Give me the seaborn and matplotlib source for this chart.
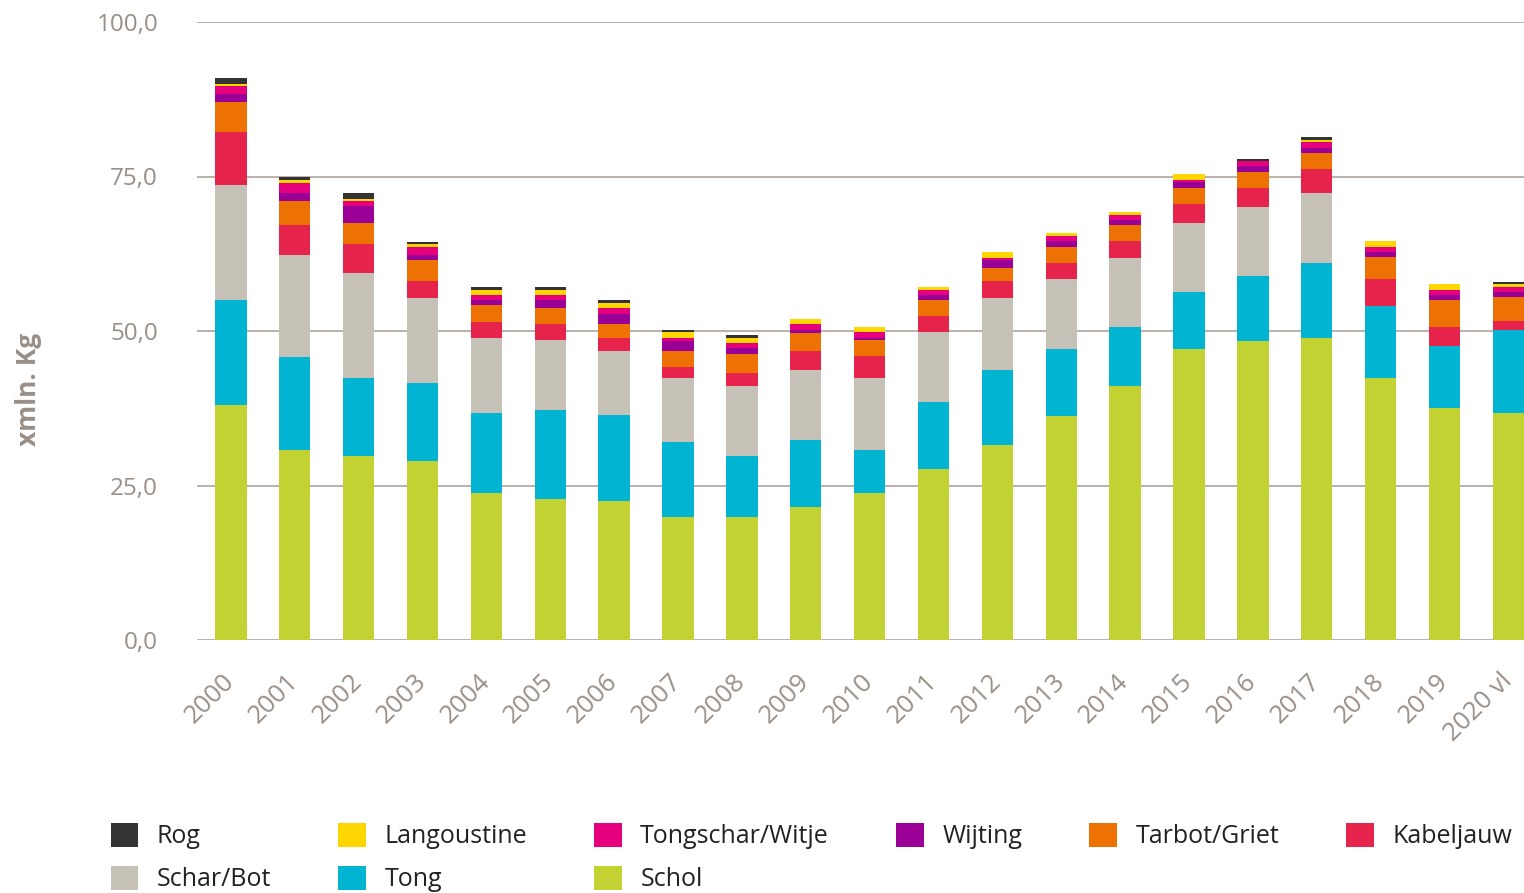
import seaborn as sns
import matplotlib.pyplot as plt
import pandas as pd
import numpy as np
from matplotlib.patches import Patch

# Data (mln kg per species)
years = ["2000", "2001", "2002", "2003", "2004", "2005", "2006", "2007", "2008", "2009", "2010",
         "2011", "2012", "2013", "2014", "2015", "2016", "2017", "2018", "2019", "2020 vl"]

schol       = [38.0, 30.7, 29.8, 29.0, 23.8, 22.8, 22.5, 19.9, 19.9, 21.5, 23.8,
               27.7, 31.6, 36.2, 41.1, 47.1, 48.4, 48.9, 42.4, 37.5, 36.7]
tong        = [17.0, 15.1, 12.6, 12.6, 12.9, 14.4, 13.9, 12.1, 9.9, 10.9, 6.9,
               10.8, 12.1, 10.9, 9.5, 9.2, 10.5, 12.1, 11.6, 10.1, 13.5]
schar_bot   = [18.6, 16.5, 17.0, 13.7, 12.2, 11.3, 10.4, 10.4, 11.3, 11.3, 11.7,
               11.3, 11.6, 11.3, 11.2, 11.2, 11.2, 11.3, 0.0, 0.0, 0.0]
kabeljauw   = [8.6, 4.9, 4.7, 2.8, 2.6, 2.6, 2.1, 1.8, 2.1, 3.1, 3.6,
               2.6, 2.8, 2.6, 2.8, 3.1, 3.0, 3.9, 4.4, 3.0, 1.4]
tarbot      = [4.9, 3.8, 3.4, 3.4, 2.7, 2.6, 2.2, 2.6, 3.1, 2.9, 2.5,
               2.6, 2.1, 2.6, 2.6, 2.5, 2.6, 2.6, 3.6, 4.4, 3.9]
wijting     = [1.2, 1.3, 2.7, 0.8, 0.8, 1.3, 1.7, 1.6, 0.9, 0.5, 0.4,
               0.8, 1.3, 1.0, 0.8, 1.0, 1.0, 0.8, 0.8, 0.8, 0.8]
tongschar   = [1.3, 1.6, 0.8, 1.3, 0.8, 0.8, 0.9, 0.5, 0.9, 0.9, 0.9,
               0.8, 0.3, 0.8, 0.8, 0.3, 0.8, 1.0, 0.8, 0.8, 0.8]
langoustine = [0.4, 0.5, 0.4, 0.5, 0.8, 0.8, 0.8, 0.9, 0.8, 0.8, 0.8,
               0.5, 1.0, 0.5, 0.5, 1.0, 0.0, 0.3, 1.0, 1.0, 0.5]
rog         = [0.9, 0.5, 0.9, 0.3, 0.5, 0.5, 0.5, 0.4, 0.5, 0.0, 0.0,
               0.0, 0.0, 0.0, 0.0, 0.0, 0.3, 0.5, 0.0, 0.0, 0.3]

# bottom -> top
series = [
    ("Schol", schol, "#c1d232"),
    ("Tong", tong, "#00b4d2"),
    ("Schar/Bot", schar_bot, "#c5c1b6"),
    ("Kabeljauw", kabeljauw, "#e6234a"),
    ("Tarbot/Griet", tarbot, "#ee7203"),
    ("Wijting", wijting, "#9b0096"),
    ("Tongschar/Witje", tongschar, "#e6007e"),
    ("Langoustine", langoustine, "#ffd600"),
    ("Rog", rog, "#333333"),
]

df = pd.DataFrame({name: vals for name, vals, _ in series}, index=years)
cum = df.cumsum(axis=1)

sns.set_style("white")
plt.rcParams['font.family'] = ['Open Sans', 'DejaVu Sans']

fig = plt.figure(figsize=(15.24, 8.93), dpi=100)
ax = fig.add_axes([197 / 1524, 1 - 640 / 893, 1 - 197 / 1524, (640 - 22) / 893])

grey = "#9a8f87"
# draw cumulative totals from the top layer down so each overlaps the next
for name, _, color in reversed(series):
    sns.barplot(x=years, y=cum[name].values, color=color, saturation=1,
                width=0.49, errorbar=None, linewidth=0, ax=ax, zorder=3)

ax.set_ylim(0, 100)
ax.set_xlim(-0.53, 20.245)
ax.set_yticks([0, 25, 50, 75, 100])
ax.set_yticklabels(["0,0", "25,0", "50,0", "75,0", "100,0"])
ax.yaxis.grid(True, color="#b5aca4", linewidth=1.3, zorder=0)
ax.set_axisbelow(True)
for s in ax.spines.values():
    s.set_visible(False)

ax.tick_params(axis="y", length=0, pad=28, labelsize=17.5, labelcolor=grey)
ax.tick_params(axis="x", length=0, pad=27, labelsize=18.5, labelcolor=grey)
for lab in ax.get_xticklabels():
    lab.set_rotation(45)
    lab.set_ha("right")
    lab.set_va("center")
    lab.set_rotation_mode("anchor")

ax.set_xlabel("")
ax.set_ylabel("xmln. Kg", fontsize=19, fontweight="bold", color=grey, labelpad=0)
ax.yaxis.set_label_coords(-0.117, 0.405)

colors = {name: c for name, _, c in series}
order = ["Rog", "Schar/Bot", "Langoustine", "Tong", "Tongschar/Witje", "Schol",
         "Wijting", "Tarbot/Griet", "Kabeljauw"]
handles = [Patch(facecolor=colors[n], edgecolor="none", label=n) for n in order]
fig.legend(handles=handles, loc="upper left", bbox_to_anchor=(98 / 1524, 1 - 810 / 893),
           ncol=6, frameon=False, fontsize=18, handlelength=1.1, handleheight=1.1,
           handletextpad=0.75, columnspacing=2.68, labelspacing=0.68, borderpad=0,
           labelcolor="#222222")

plt.savefig("out.png", dpi=100)
